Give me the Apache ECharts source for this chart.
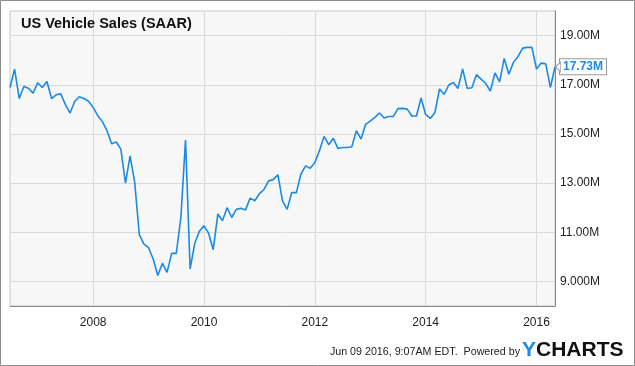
<!DOCTYPE html>
<html>
<head>
<meta charset="utf-8">
<script src="https://cdn.jsdelivr.net/npm/echarts@6/dist/echarts.min.js"></script>
<style>
html,body{margin:0;padding:0;background:#fff;}
#chart{width:635px;height:366px;}
</style>
</head>
<body>
<div id="chart"></div>
<script>
// Monthly US vehicle sales, SAAR (millions), Jul 2006 - May 2016
var startYear = 2006, startMonth = 7;
var salesValues = [
  16.89, 17.64, 16.44, 16.93, 16.86, 16.66,
  17.08, 16.89, 17.13, 16.44, 16.59, 16.63, 16.19, 15.85, 16.32, 16.51, 16.44, 16.33,
  16.08, 15.74, 15.50, 15.13, 14.60, 14.67, 14.38, 13.00, 14.11, 13.03, 10.90, 10.52,
  10.37, 9.91, 9.24, 9.74, 9.37, 10.14, 10.14, 11.60, 14.75, 9.51, 10.55, 11.04,
  11.26, 10.96, 10.29, 11.74, 11.47, 12.00, 11.60, 11.93, 11.98, 11.91, 12.39, 12.28,
  12.57, 12.74, 13.09, 13.14, 13.34, 12.28, 11.93, 12.62, 12.61, 13.37, 13.70, 13.60,
  13.84, 14.32, 14.90, 14.56, 14.82, 14.41, 14.45, 14.45, 14.48, 15.13, 14.79, 15.39,
  15.52, 15.67, 15.85, 15.65, 15.71, 15.71, 16.03, 16.04, 16.01, 15.73, 15.73, 16.46,
  15.78, 15.63, 15.87, 16.83, 16.61, 16.99, 17.09, 16.85, 17.64, 16.85, 16.88, 17.41,
  17.23, 17.05, 16.74, 17.48, 17.12, 18.07, 17.43, 17.91, 18.15, 18.49, 18.52, 18.52,
  17.64, 17.88, 17.85, 16.89, 17.73
];
var yTickValues = [9, 11, 13, 15, 17, 19];
var yTickLabels = ['9.000M', '11.00M', '13.00M', '15.00M', '17.00M', '19.00M'];
var xTickYears = ['2008', '2010', '2012', '2014', '2016'];
var lastLabel = '17.73M';

var months = [];
for (var i = 0; i < salesValues.length; i++) {
  var m = startMonth - 1 + i;
  var y = startYear + Math.floor(m / 12);
  var mm = (m % 12) + 1;
  months.push(y + '-' + (mm < 10 ? '0' + mm : mm));
}
function isYearTick(index) {
  var v = months[index];
  return v.slice(5) === '01' && xTickYears.indexOf(v.slice(0, 4)) >= 0;
}
var lastIndex = salesValues.length - 1;

var blue = '#1a8ae6';
var chart = echarts.init(document.getElementById('chart'), null, {renderer: 'canvas'});
chart.setOption({
  animation: false,
  backgroundColor: '#ffffff',
  textStyle: {fontFamily: 'Liberation Sans, Arial, sans-serif'},
  title: {
    text: 'US Vehicle Sales (SAAR)',
    left: 21, top: 16, padding: 0,
    textStyle: {fontSize: 14.5, fontWeight: 'bold', color: '#111', fontFamily: 'Liberation Sans, Arial, sans-serif'}
  },
  grid: {
    left: 10, right: 80, top: 11, bottom: 60,
    show: true, backgroundColor: '#f7f7f7', borderColor: '#c8c8c8', borderWidth: 1
  },
  xAxis: {
    type: 'category',
    data: months,
    boundaryGap: false,
    axisLine: {show: true, lineStyle: {color: '#888', width: 1}},
    axisTick: {show: false},
    axisLabel: {
      interval: function (idx) { return isYearTick(idx); },
      formatter: function (v) { return v.slice(0, 4); },
      color: '#222', fontSize: 12, margin: 11,
      fontFamily: 'Liberation Sans, Arial, sans-serif'
    },
    splitLine: {
      show: true,
      interval: function (idx) { return isYearTick(idx); },
      lineStyle: {color: '#d9d9d9', width: 1}
    }
  },
  yAxis: {
    type: 'value',
    position: 'right',
    min: 8, max: 20, interval: 1,
    axisLine: {show: true, lineStyle: {color: '#888', width: 1}},
    axisTick: {show: false},
    axisLabel: {
      color: '#222', fontSize: 12, margin: 5,
      fontFamily: 'Liberation Sans, Arial, sans-serif',
      formatter: function (v) {
        var k = yTickValues.indexOf(v);
        return k >= 0 ? yTickLabels[k] : '';
      }
    },
    splitLine: {show: true, lineStyle: {color: ['rgba(0,0,0,0)', '#d9d9d9'], width: 1}}
  },
  series: [{
    type: 'line',
    data: salesValues,
    symbol: 'none',
    lineStyle: {color: blue, width: 1.6},
    itemStyle: {color: blue},
    endLabel: {
      show: true,
      formatter: function () { return lastLabel; },
      color: blue, fontWeight: 'bold', fontSize: 12,
      fontFamily: 'Liberation Sans, Arial, sans-serif',
      backgroundColor: '#fff', borderColor: '#999', borderWidth: 1,
      padding: [2, 3, 1, 3], distance: 5
    },
    markPoint: {
      silent: true,
      symbol: 'path://M0,5 L6,0 L6,10 Z',
      symbolSize: [5, 10],
      symbolOffset: [3, 0],
      itemStyle: {color: '#fff', borderColor: '#999', borderWidth: 1},
      label: {show: false},
      data: [{coord: [lastIndex, salesValues[lastIndex]]}]
    }
  }],
  graphic: [
    {type: 'rect', shape: {x: 0.5, y: 0.5, width: 634, height: 365}, style: {fill: 'none', stroke: '#8c8c8c', lineWidth: 1}, z: 100},
    {type: 'text', right: 115, top: 347, style: {text: 'Jun 09 2016, 9:07AM EDT.  Powered by', font: '10.7px "Liberation Sans", Arial, sans-serif', fill: '#222'}},
    {type: 'text', left: 522, top: 340, style: {text: 'Y', font: 'bold 21px "Liberation Sans", Arial, sans-serif', fill: '#1a8ae6'}},
    {type: 'text', left: 536, top: 340, style: {text: 'CHARTS', font: 'bold 21px "Liberation Sans", Arial, sans-serif', fill: '#111'}}
  ]
});
</script>
</body>
</html>
